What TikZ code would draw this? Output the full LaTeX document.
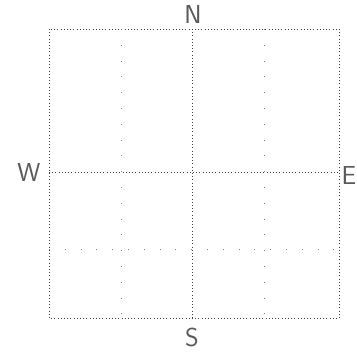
\documentclass[tikz,border=0pt]{standalone}
\usetikzlibrary{positioning}

\begin{document}
\begin{tikzpicture}[
  x=1pt, y=-1pt,
  frame/.style={draw=black!75, line width=0.8pt, dash pattern=on 0.8pt off 2.4pt},
  subgrid/.style={draw=black!50, line width=0.8pt, dash pattern=on 0.8pt off 15pt},
  dirlabel/.style={font=\sffamily\fontsize{26}{26}\selectfont, text=black!65, inner sep=0pt}
]
\useasboundingbox (0,0) rectangle (357,353);
\coordinate (nw) at (49,29);
\coordinate (se) at (339,318);
\coordinate (top) at (192,29);
\coordinate (bottom) at (192,318);
\coordinate (left) at (49,172);
\coordinate (right) at (339,172);
\node[dirlabel] (north) at (193,14) {N};
\node[dirlabel] (south) at (192,337) {S};
\node[dirlabel] (west) at (29,172) {W};
\node[dirlabel, anchor=east] (east) at (356.5,176) {E};
\draw[frame] (nw) rectangle (se);
\draw[frame] (top) -- (bottom);
\draw[frame] (left) -- (right);
\draw[subgrid] (121,29) -- (121,318);
\draw[subgrid] (264,29) -- (264,318);
\draw[subgrid] (49,249) -- (339,249);
\end{tikzpicture}
\end{document}
